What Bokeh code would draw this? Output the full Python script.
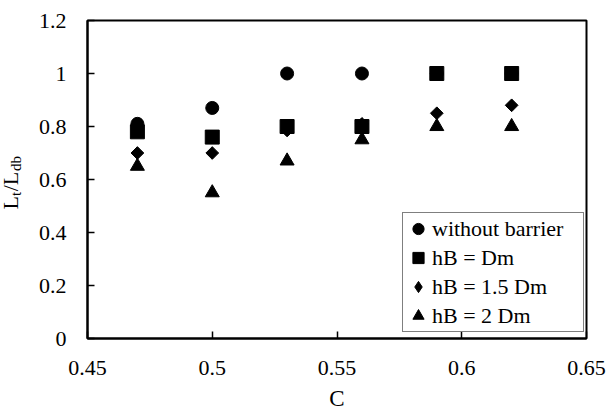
import math
from bokeh.plotting import figure
from bokeh.models import Range1d, FixedTicker, Legend, LegendItem, Label
from bokeh.embed import file_html
from bokeh.resources import INLINE

# Concentration C on the x axis, L_t/L_db ratios for each barrier case
C = [0.47, 0.50, 0.53, 0.56, 0.59, 0.62]
without_barrier = [0.81, 0.87, 1.00, 1.00, 1.00, 1.00]
hB_Dm = [0.78, 0.76, 0.80, 0.80, 1.00, 1.00]
hB_15Dm = [0.70, 0.70, 0.785, 0.81, 0.85, 0.88]
hB_2Dm = [0.65, 0.55, 0.67, 0.75, 0.80, 0.80]

series_names = ["without barrier", "hB = Dm", "hB = 1.5 Dm", "hB = 2 Dm"]

x_ticks = [0.45, 0.5, 0.55, 0.6, 0.65]
x_tick_labels = ["0.45", "0.5", "0.55", "0.6", "0.65"]
y_ticks = [0, 0.2, 0.4, 0.6, 0.8, 1.0, 1.2]
y_tick_labels = ["0", "0.2", "0.4", "0.6", "0.8", "1", "1.2"]

FONT = "Liberation Serif"

p = figure(width=609, height=417, output_backend="svg", toolbar_location=None,
           x_range=Range1d(0.45, 0.65), y_range=Range1d(0, 1.2),
           min_border_left=87, min_border_right=23, min_border_top=20,
           min_border_bottom=79)
p.grid.visible = False
p.outline_line_color = "black"
p.outline_line_width = 2

for ax in (p.xaxis[0], p.yaxis[0]):
    ax.axis_line_color = "black"
    ax.axis_line_width = 2
    ax.major_tick_in = 7
    ax.major_tick_out = 0
    ax.minor_tick_in = 0
    ax.minor_tick_out = 0
    ax.major_tick_line_width = 1.5
    ax.major_label_text_font = FONT
    ax.major_label_text_font_style = "normal"
    ax.major_label_text_font_size = "22px"
    ax.major_label_text_color = "black"
p.xaxis.major_label_standoff = 22
p.yaxis.major_label_standoff = 21

p.xaxis.ticker = FixedTicker(ticks=x_ticks)
p.xaxis.major_label_overrides = dict(zip(x_ticks, x_tick_labels))
p.yaxis.ticker = FixedTicker(ticks=y_ticks)
p.yaxis.major_label_overrides = dict(zip(y_ticks, y_tick_labels))

p.xaxis.axis_label = "C"
p.xaxis.axis_label_text_font = FONT
p.xaxis.axis_label_text_font_size = "23px"
p.xaxis.axis_label_text_font_style = "normal"
p.xaxis.axis_label_text_color = "black"
p.xaxis.axis_label_standoff = 8

# Scatter series (diamonds are squares turned by 45 degrees; the narrow
# diamond underneath is fully covered and only serves as the legend key)
r1 = p.scatter(C, without_barrier, marker="circle", size=13, color="black")
r2 = p.scatter(C, hB_Dm, marker="square", size=14, color="black")
r3_key = p.scatter(C, hB_15Dm, marker="diamond", size=11, color="black")
r3 = p.scatter(C, hB_15Dm, marker="square", size=9, angle=math.pi / 4, color="black")
r4 = p.scatter(C, hB_2Dm, marker="triangle", size=14, color="black")

legend = Legend(items=[
    LegendItem(label=series_names[0], renderers=[r1]),
    LegendItem(label=series_names[1], renderers=[r2]),
    LegendItem(label=series_names[2], renderers=[r3_key]),
    LegendItem(label=series_names[3], renderers=[r4]),
], location=(315, 6))
legend.label_text_font = FONT
legend.label_text_font_style = "normal"
legend.label_text_font_size = "22px"
legend.label_text_color = "black"
legend.border_line_color = "black"
legend.border_line_width = 1.5
legend.padding = 1
legend.spacing = 0
legend.glyph_width = 28
legend.glyph_height = 29
legend.label_height = 29
legend.label_width = 150
legend.label_standoff = 0
legend.margin = 0
p.add_layout(legend, "center")

# Rotated y-axis title L_t/L_db: the main letters in one piece, the two
# subscripts dropped toward the baseline.  Each piece sits in a side panel
# (not clipped by the frame) that still has room for it.
y_title = [
    # text, font size, offset along the axis, shift toward the baseline, panel
    ("L /L", 22, 0, 0, "left"),
    ("t", 15, 13.5, 5, "right"),
    ("db", 15, 38.5, 5, "above"),
]
for txt, fs, along, shift, side in y_title:
    p.add_layout(Label(x=0.45, y=0.487, x_units="data", y_units="data",
                       x_offset=-77 + shift, y_offset=along, text=txt,
                       angle=math.pi / 2, text_font=FONT,
                       text_font_style="normal",
                       text_font_size=f"{fs}px", text_color="black",
                       text_align="left", text_baseline="alphabetic"),
                 side)

open("out.html", "w").write(file_html(p, INLINE))
